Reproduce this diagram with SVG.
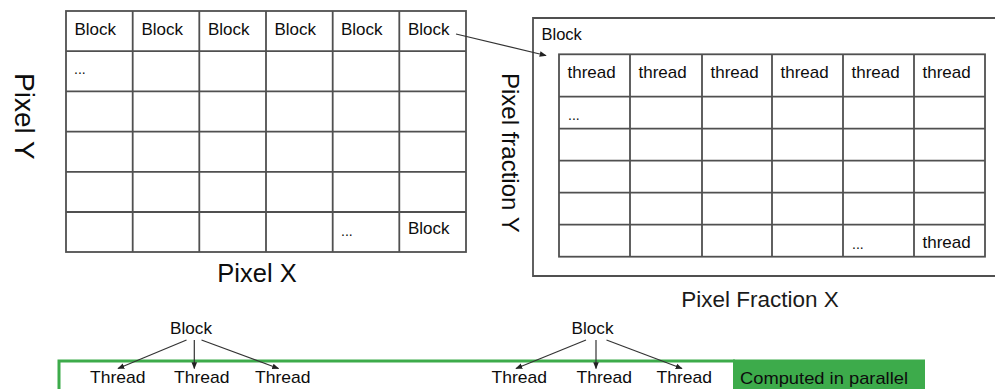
<svg xmlns="http://www.w3.org/2000/svg" width="995" height="389" viewBox="0 0 995 389">
  <style>
    .grid { fill: none; stroke: #505050; stroke-width: 1.8; }
    .lbl { font-family: "Liberation Sans", Arial, sans-serif; fill: #0d0d0d; }
    .cell { font-size: 17px; }
    .dots { font-size: 14px; }
    .axis { font-size: 22.5px; fill: #1a1a1a; }
    .conn { fill: none; stroke: #333; stroke-width: 1.2; }
  </style>
  <defs>
    <marker id="arrow" viewBox="0 0 10 10" refX="9" refY="5" markerWidth="7" markerHeight="7" markerUnits="userSpaceOnUse" orient="auto">
      <path d="M0,1 L10,5 L0,9 Z" fill="#222"/>
    </marker>
  </defs>

  <rect width="995" height="389" fill="#ffffff"/>

  <!-- grid of blocks over the image -->
  <g id="block-grid">
    <rect class="grid" x="66" y="11" width="400" height="241"/>
    <path class="grid" d="M132.7,11V252 M199.3,11V252 M266,11V252 M332.7,11V252 M399.3,11V252
                          M66,51.2H466 M66,91.4H466 M66,131.6H466 M66,171.8H466 M66,212H466"/>
    <g class="lbl cell">
      <text x="74.5" y="35">Block</text>
      <text x="141.5" y="35">Block</text>
      <text x="208" y="35">Block</text>
      <text x="274.5" y="35">Block</text>
      <text x="341" y="35">Block</text>
      <text x="408" y="35">Block</text>
      <text x="408" y="234">Block</text>
    </g>
    <g class="lbl dots">
      <text x="74" y="74">...</text>
      <text x="341" y="236">...</text>
    </g>
  </g>

  <g id="pixel-y">
    <text class="lbl" font-size="28" transform="translate(15,73) rotate(90)">Pixel Y</text>
  </g>
  <g id="pixel-x">
    <text class="lbl" font-size="25.5" x="257" y="282" text-anchor="middle">Pixel X</text>
  </g>

  <!-- one block expanded into its threads -->
  <g id="thread-block">
    <path class="grid" d="M997,18H533V276H997"/>
    <text class="lbl" font-size="16.5" x="541.5" y="40">Block</text>
    <rect class="grid" x="559" y="54.3" width="426" height="202.4"/>
    <path class="grid" d="M630,54.3V256.7 M702,54.3V256.7 M772,54.3V256.7 M843,54.3V256.7 M914,54.3V256.7
                          M559,96.7H985 M559,128.7H985 M559,160.7H985 M559,192.7H985 M559,224.7H985"/>
    <g class="lbl cell">
      <text x="567.5" y="78">thread</text>
      <text x="638.5" y="78">thread</text>
      <text x="710.5" y="78">thread</text>
      <text x="780.5" y="78">thread</text>
      <text x="851.5" y="78">thread</text>
      <text x="922.5" y="78">thread</text>
      <text x="922.5" y="248">thread</text>
    </g>
    <g class="lbl dots">
      <text x="568" y="120">...</text>
      <text x="852" y="249">...</text>
    </g>
  </g>

  <g id="pixel-fraction-y">
    <text class="lbl" font-size="24" transform="translate(502,73) rotate(90)">Pixel fraction Y</text>
  </g>
  <g id="pixel-fraction-x">
    <text class="lbl axis" x="760" y="306.5" text-anchor="middle">Pixel Fraction X</text>
  </g>

  <!-- parallel execution strip -->
  <g id="parallel-frame">
    <path d="M59,392V361H735" fill="none" stroke="#3dab4b" stroke-width="3"/>
    <rect x="733" y="359.5" width="192" height="32" fill="#3dab4b"/>
    <text class="lbl" font-size="17" x="740" y="383.5" textLength="168" lengthAdjust="spacingAndGlyphs">Computed in parallel</text>
  </g>

  <g id="tree-left">
    <text class="lbl" font-size="17" x="170" y="333.5" textLength="42" lengthAdjust="spacingAndGlyphs">Block</text>
    <g class="lbl" font-size="17">
      <text x="90" y="383" textLength="55.5" lengthAdjust="spacingAndGlyphs">Thread</text>
      <text x="174" y="383" textLength="55.5" lengthAdjust="spacingAndGlyphs">Thread</text>
      <text x="255" y="383" textLength="55.5" lengthAdjust="spacingAndGlyphs">Thread</text>
    </g>
  </g>

  <g id="tree-right">
    <text class="lbl" font-size="17" x="571.5" y="333.5" textLength="42" lengthAdjust="spacingAndGlyphs">Block</text>
    <g class="lbl" font-size="17">
      <text x="491.5" y="383" textLength="55.5" lengthAdjust="spacingAndGlyphs">Thread</text>
      <text x="576.5" y="383" textLength="55.5" lengthAdjust="spacingAndGlyphs">Thread</text>
      <text x="656.5" y="383" textLength="55.5" lengthAdjust="spacingAndGlyphs">Thread</text>
    </g>
  </g>

  <g id="connectors">
    <line class="conn" x1="456" y1="34" x2="546" y2="55.5" marker-end="url(#arrow)"/>
    <line class="conn" x1="186.5" y1="340" x2="118" y2="368.5" marker-end="url(#arrow)"/>
    <line class="conn" x1="194.3" y1="340" x2="194.3" y2="368.5" marker-end="url(#arrow)"/>
    <line class="conn" x1="201.5" y1="340" x2="278.5" y2="368.5" marker-end="url(#arrow)"/>
    <line class="conn" x1="586" y1="340" x2="516" y2="368.5" marker-end="url(#arrow)"/>
    <line class="conn" x1="596" y1="340" x2="596" y2="368.5" marker-end="url(#arrow)"/>
    <line class="conn" x1="606.5" y1="340" x2="682" y2="368.5" marker-end="url(#arrow)"/>
  </g>
</svg>
